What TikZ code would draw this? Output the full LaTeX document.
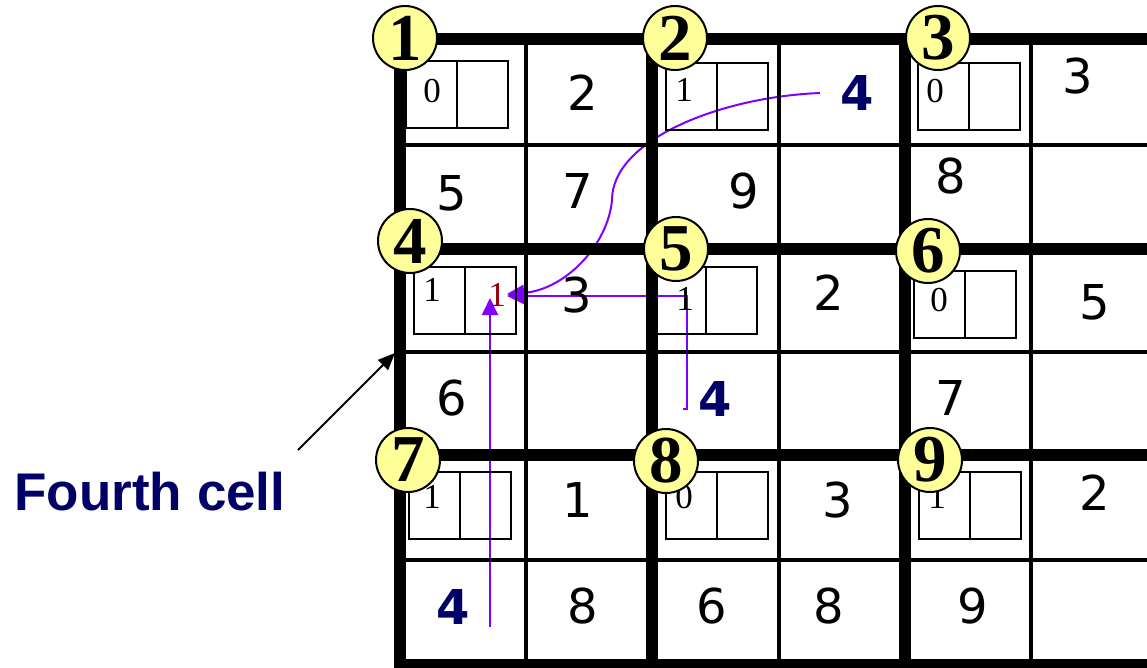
\documentclass[tikz,border=0pt]{standalone}
\usepackage{fontspec}
\newfontfamily\cellfont{DejaVu Sans}
\newfontfamily\boxfont{Liberation Serif}
\newfontfamily\lblfont{Liberation Sans}
\usetikzlibrary{arrows.meta}
\definecolor{navyblue}{HTML}{000066}
\definecolor{arrowviolet}{HTML}{7F00FF}
\definecolor{darkred}{HTML}{990000}
\definecolor{circfill}{HTML}{FFFF99}
\begin{document}
\begin{tikzpicture}[x=1pt,y=-1pt,
  thingrid/.style={line width=3.8pt},
  thickgrid/.style={line width=12.5pt},
  digit/.style={inner sep=0pt, font=\cellfont\fontsize{48}{48}\selectfont},
  bluedigit/.style={inner sep=0pt, text=navyblue, font=\cellfont\bfseries\fontsize{48}{48}\selectfont},
  half/.style={draw, line width=1.8pt, minimum width=51pt, minimum height=67pt, inner sep=0pt, outer sep=0pt, anchor=north west},
  boxdigit/.style={inner sep=0pt, font=\boxfont\fontsize{35}{35}\selectfont},
  badge/.style={circle, draw, line width=2pt, fill=circfill, minimum size=64pt, inner sep=0pt, font=\boxfont\bfseries\fontsize{67}{67}\selectfont},
  link/.style={draw=arrowviolet, line width=2pt},
  linktip/.style={-{Triangle[length=17pt,width=16pt]}, arrowviolet}
]
\useasboundingbox (0,0) rectangle (1147,667);
\clip (0,0) rectangle (1147,667);

% purple connectors (under the grid)
\coordinate (curveStart) at (820,93);
\coordinate (tipLeft) at (507,294);
\coordinate (hookEnd) at (683,409);
\coordinate (hookCorner) at (687,409);
\coordinate (bendTop) at (687,296);
\coordinate (tipLeftB) at (507,296);
\coordinate (upStart) at (490,627);
\coordinate (tipUp) at (490,298);
\draw[link, linktip] (curveStart) .. controls (720,97) and (612,140) .. (612,200)
  .. controls (608,245) and (565,290) .. (tipLeft);
\draw[link, linktip] (hookEnd) -- (hookCorner) -- (bendTop) -- (tipLeftB);
\draw[link, linktip] (upStart) -- (tipUp);

% thin grid lines
\foreach \x in {526,779,1031} \draw[thingrid] (\x,39) -- (\x,667);
\foreach \y in {145,352,560} \draw[thingrid] (400,\y) -- (1147,\y);
% thick grid lines
\foreach \x in {400,652,905} \draw[thickgrid] (\x,33) -- (\x,672);
\foreach \y in {39,249,455,665} \draw[thickgrid] (394,\y) -- (1160,\y);

% split boxes
\foreach \n/\bx/\by in {1/406/61,2/666/63,3/918/63,4/414/267,5/655/267,6/914/271,7/409/472,8/666/472,9/919/472}{
  \node[half] (b\n l) at (\bx,\by) {};
  \node[half] (b\n r) at (b\n l.north east) {};
}

% digits inside boxes
\node[boxdigit] (d1) at (432,91) {0};
\node[boxdigit] (d2) at (684,90) {1};
\node[boxdigit] (d3) at (935,91) {0};
\node[boxdigit] (d4) at (432,290) {1};
\node[boxdigit, text=darkred] (d4r) at (497,295) {1};
\node[boxdigit] (d5) at (685,299) {1};
\node[boxdigit] (d6) at (939,300) {0};
\node[boxdigit] (d7) at (432,497) {1};
\node[boxdigit] (d8) at (684,497) {0};
\node[boxdigit] (d9) at (937,497) {1};

% cell digits
\node[digit] (r1c2) at (583,93) {2};
\node[bluedigit] (r1c4) at (857,93) {4};
\node[digit] (r1c6) at (1078,76) {3};
\node[digit] (r2c1) at (452,193) {5};
\node[digit] (r2c2) at (578,191) {7};
\node[digit] (r2c3) at (744,191) {9};
\node[digit] (r2c5) at (951,176) {8};
\node[digit] (r3c2) at (577,295) {3};
\node[digit] (r3c4) at (829,293) {2};
\node[digit] (r3c6) at (1095,302) {5};
\node[digit] (r4c1) at (452,398) {6};
\node[bluedigit] (r4c3) at (715,399) {4};
\node[digit] (r4c5) at (951,398) {7};
\node[digit] (r5c2) at (578,500) {1};
\node[digit] (r5c4) at (838,500) {3};
\node[digit] (r5c6) at (1095,493) {2};
\node[bluedigit] (r6c1) at (453,607) {4};
\node[digit] (r6c2) at (583,606) {8};
\node[digit] (r6c3) at (712,606) {6};
\node[digit] (r6c4) at (829,606) {8};
\node[digit] (r6c5) at (973,606) {9};

% numbered badges
\node[badge] (c1) at (405,38) {1};
\node[badge] (c2) at (675,38) {2};
\node[badge] (c3) at (938,38) {3};
\node[badge] (c4) at (410,241) {4};
\node[badge] (c5) at (676,249) {5};
\node[badge] (c6) at (928,251) {6};
\node[badge] (c7) at (408,460) {7};
\node[badge] (c8) at (666,461) {8};
\node[badge] (c9) at (930,460) {9};

% label and pointer
\node[inner sep=0pt, text=navyblue, font=\lblfont\bfseries\fontsize{53}{53}\selectfont] (fourth) at (150,492) {Fourth cell};
\coordinate (pointerStart) at (298,450);
\coordinate (pointerTip) at (395,353);
\draw[line width=2pt, -{Triangle[length=17pt,width=14pt]}] (pointerStart) -- (pointerTip);
\end{tikzpicture}
\end{document}
